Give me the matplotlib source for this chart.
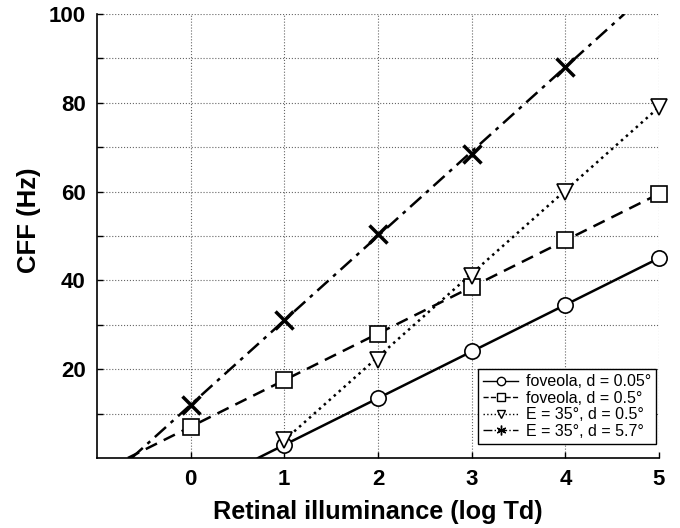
import matplotlib.pyplot as plt
from matplotlib.lines import Line2D

# marker data
log_td = [0, 1, 2, 3, 4, 5]
fov_005_x = [1, 2, 3, 4, 5]
fov_005_y = [3.0, 13.5, 24.0, 34.5, 45.0]
fov_05_x = [0, 1, 2, 3, 4, 5]
fov_05_y = [7.0, 17.5, 28.0, 38.5, 49.0, 59.5]
ecc_05_x = [1, 2, 3, 4, 5]
ecc_05_y = [4.0, 22.0, 41.0, 60.0, 79.0]
ecc_57_x = [0, 1, 2, 3, 4]
ecc_57_y = [12.0, 31.0, 50.5, 68.5, 88.0]

# fitted lines (end points)
fov_005_fit_x = [0.72, 5]
fov_005_fit_y = [0, 45.0]
fov_05_fit_x = [-0.67, 5]
fov_05_fit_y = [0, 59.5]
ecc_05_fit_x = [1, 5]
ecc_05_fit_y = [4.0, 79.0]
ecc_57_fit_x = [-0.63, 4.63]
ecc_57_fit_y = [0, 100]

labels = ['foveola, d = 0.05°', 'foveola, d = 0.5°',
          'E = 35°, d = 0.5°', 'E = 35°, d = 5.7°']

plt.rcParams['font.family'] = ['Liberation Sans', 'DejaVu Sans']

fig = plt.figure(figsize=(6.8, 5.28), dpi=100)
ax = fig.add_axes([0.1426, 0.1326, 0.8265, 0.8409])

lw = 1.8
ax.plot(fov_005_fit_x, fov_005_fit_y, '-', color='black', lw=lw)
ax.plot(fov_005_x, fov_005_y, 'o', ms=11, mfc='white', mec='black', mew=1.2, clip_on=False)

ax.plot(fov_05_fit_x, fov_05_fit_y, '--', color='black', lw=lw, dashes=(5, 3))
ax.plot(fov_05_x, fov_05_y, 's', ms=12, mfc='white', mec='black', mew=1.2, clip_on=False)

ax.plot(ecc_05_fit_x, ecc_05_fit_y, ':', color='black', lw=lw)
ax.plot(ecc_05_x, ecc_05_y, 'v', ms=12, mfc='white', mec='black', mew=1.2, clip_on=False)

ax.plot(ecc_57_fit_x, ecc_57_fit_y, '-.', color='black', lw=lw, dashes=(6, 2.5, 1.5, 2.5))
ax.plot(ecc_57_x, ecc_57_y, 'x', ms=13, mec='black', mew=2.5, clip_on=False)

ax.set_xlim(-1, 5)
ax.set_ylim(0, 100)
ax.set_xticks(log_td)
ax.set_yticks(range(10, 101, 10))
ax.set_yticklabels(['' if v % 20 else str(v) for v in range(10, 101, 10)])
ax.tick_params(direction='in', length=4, width=1, labelsize=16, pad=8)
for t in ax.get_xticklabels() + ax.get_yticklabels():
    t.set_fontweight('bold')

ax.grid(True, linestyle=':', color='#666666', lw=0.8)
ax.spines['top'].set_visible(False)
ax.spines['right'].set_visible(False)
ax.spines['left'].set_linewidth(1.2)
ax.spines['bottom'].set_linewidth(1.2)

ax.set_xlabel('Retinal illuminance (log Td)', fontsize=18.2, fontweight='bold', labelpad=7)
ax.set_ylabel('CFF (Hz)', fontsize=18.5, fontweight='bold')
ax.yaxis.set_label_coords(-0.1, 0.536)

handles = [
    Line2D([], [], color='black', ls='-', lw=1, marker='o', ms=6, mfc='white', mec='black'),
    Line2D([], [], color='black', ls='--', lw=1, marker='s', ms=6, mfc='white', mec='black'),
    Line2D([], [], color='black', ls=':', lw=1, marker='v', ms=6, mfc='white', mec='black'),
    Line2D([], [], color='black', ls='-.', lw=1, marker=(6, 2, 0), ms=7, mec='black'),
]
leg = ax.legend(handles, labels, loc='lower right', fontsize=11.5, frameon=True,
                fancybox=False, edgecolor='black', framealpha=1,
                handlelength=2.2, handletextpad=0.5, borderpad=0.3,
                labelspacing=0.1, borderaxespad=0,
                bbox_to_anchor=(0.995, 0.032))
leg.get_frame().set_linewidth(1.0)

fig.savefig('out.png', dpi=100)
